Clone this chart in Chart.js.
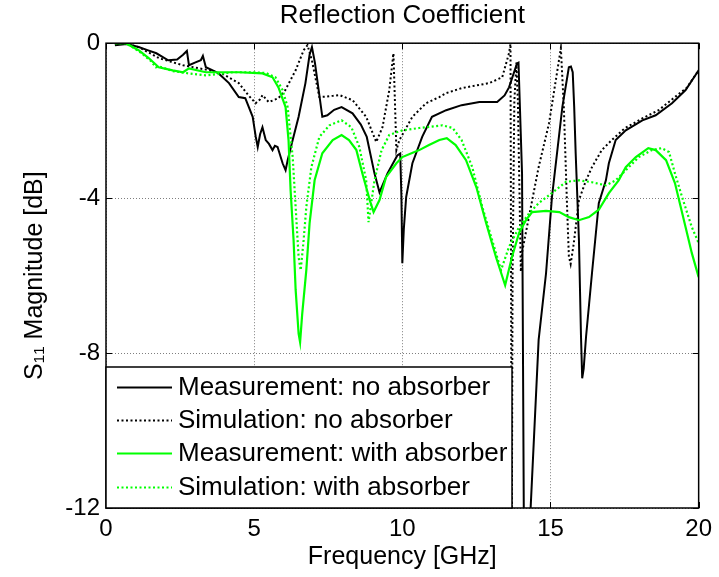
<!DOCTYPE html>
<html>
<head>
<meta charset="utf-8">
<title>Reflection Coefficient</title>
<script src="https://cdn.jsdelivr.net/npm/chart.js@4.4.1/dist/chart.umd.min.js"></script>
<style>
  html, body { margin: 0; padding: 0; background: #fff; }
  #s11-container { width: 719px; height: 577px; }
</style>
</head>
<body>
<div id="s11-container"><canvas id="s11-chart" width="719" height="577"></canvas></div>
<script>
/********************************
 *  values (GHz / dB)
 * ******************************/
var measNoFreq = [0.3, 0.7, 1.1, 1.4, 1.7, 2.1, 2.4, 2.6, 2.73, 2.8, 3.0, 3.2, 3.27, 3.37, 3.6, 3.8, 4.15, 4.48, 4.7, 4.95,
    5.05, 5.12, 5.2, 5.28, 5.39, 5.5, 5.62, 5.7, 5.79, 5.96, 6.06, 6.13, 6.3, 6.5, 6.73, 6.87, 6.95, 7.05, 7.3, 7.47,
    7.7, 7.95, 8.32, 8.6, 8.8, 9.06, 9.23, 9.5, 9.83, 9.93, 9.97, 10.0, 10.05, 10.13, 10.34, 10.67, 11.0, 11.48, 12.0, 12.6,
    13.2, 13.45, 13.6, 13.87, 13.92, 14.04, 14.1, 14.2, 14.33, 14.6, 14.85, 15.05, 15.4, 15.62, 15.69, 15.75, 15.8, 15.85, 15.96, 16.03,
    16.07, 16.12, 16.2, 16.4, 16.63, 16.87, 16.97, 17.2, 17.54, 18.1, 18.55, 19.1, 19.56, 20.0];
var measNoDb = [-0.05, -0.02, -0.1, -0.18, -0.26, -0.44, -0.42, -0.3, -0.2, -0.57, -0.5, -0.44, -0.33, -0.62, -0.7, -0.78, -1.03, -1.39, -1.42, -1.9,
    -2.4, -2.68, -2.35, -2.17, -2.5, -2.6, -2.76, -2.65, -2.68, -3.1, -3.28, -3.02, -2.5, -1.9, -1.03, -0.3, -0.1, -0.5, -1.9, -1.86,
    -1.72, -1.65, -1.81, -2.1, -2.42, -3.36, -3.85, -3.36, -2.9, -2.85, -4.0, -5.68, -4.8, -3.97, -3.1, -2.42, -1.9, -1.73, -1.6, -1.52,
    -1.52, -1.35, -1.14, -0.52, -0.5, -3.36, -12.2, -14, -12.0, -7.66, -5.94, -3.97, -1.65, -0.62, -0.6, -0.75, -1.65, -2.84, -5.08, -7.58,
    -8.65, -8.4, -7.58, -5.94, -4.13, -3.54, -3.1, -2.5, -2.25, -1.99, -1.86, -1.55, -1.21, -0.7];

var simNoFreq = [0.3, 0.7, 1.1, 1.8, 2.6, 3.5, 3.95, 4.48, 4.8, 5.05, 5.2, 5.28, 5.49, 5.82, 6.05, 6.4, 6.67, 6.8, 6.95, 7.2,
    7.45, 7.65, 7.88, 8.32, 8.78, 9.12, 9.33, 9.56, 9.7, 9.75, 9.8, 9.9, 10.34, 10.8, 11.25, 11.48, 12.0, 12.93, 13.37, 13.6,
    13.65, 13.67, 13.69, 13.72, 13.78, 13.85, 13.9, 14.0, 14.04, 14.6, 14.95, 15.35, 15.45, 15.56, 15.62, 15.68, 15.78, 15.85, 15.96, 16.2,
    16.4, 16.73, 17.07, 17.5, 18.1, 18.65, 19.2, 19.6, 20.0];
var simNoDb = [-0.02, -0.02, -0.1, -0.39, -0.57, -0.7, -0.8, -1.03, -1.34, -1.55, -1.45, -1.34, -1.52, -1.42, -1.21, -0.7, -0.18, -0.05, -0.45, -1.39,
    -1.38, -1.36, -1.34, -1.47, -1.9, -2.55, -2.17, -1.21, -0.26, -1.5, -2.76, -2.5, -1.9, -1.55, -1.39, -1.29, -1.16, -1.03, -0.88, -0.26,
    -0.02, -6, -14, -6, -1.5, -0.5, -1.5, -5.9, -5.4, -3.2, -2.07, -0.13, -1.65, -4.23, -5.5, -5.7, -5.2, -4.75, -4.05, -3.54,
    -3.2, -2.76, -2.5, -2.2, -1.94, -1.73, -1.39, -1.15, -0.7];

var measAbFreq = [0.3, 0.67, 1.1, 1.45, 1.78, 2.25, 2.6, 2.8, 3.37, 4.48, 5.28, 5.62, 5.82, 6.06, 6.16, 6.23, 6.33, 6.4, 6.5, 6.55,
    6.62, 6.76, 6.87, 7.04, 7.3, 7.65, 7.95, 8.2, 8.45, 8.65, 8.9, 9.03, 9.23, 9.45, 9.8, 10.0, 10.57, 10.9, 11.25, 11.5,
    11.8, 12.15, 12.5, 12.83, 13.16, 13.47, 13.7, 13.94, 14.17, 14.38, 14.85, 15.3, 15.62, 15.96, 16.3, 16.63, 16.97, 17.3, 17.54, 17.88,
    18.3, 18.55, 18.9, 19.2, 19.56, 19.77, 20.0];
var measAbDb = [0, 0, -0.18, -0.39, -0.62, -0.7, -0.75, -0.65, -0.75, -0.75, -0.78, -0.88, -1.14, -1.65, -2.5, -3.8, -5.08, -6.37, -7.5, -7.72,
    -7.0, -5.86, -4.65, -3.54, -2.84, -2.5, -2.37, -2.5, -2.76, -3.36, -4.05, -4.36, -4.05, -3.46, -3.1, -2.94, -2.76, -2.63, -2.5, -2.45,
    -2.63, -3.02, -3.72, -4.65, -5.52, -6.25, -5.52, -4.9, -4.57, -4.36, -4.33, -4.36, -4.49, -4.57, -4.49, -4.3, -3.87, -3.54, -3.2, -2.94,
    -2.71, -2.76, -3.02, -3.61, -4.75, -5.42, -6.04];

var simAbFreq = [0.3, 0.67, 1.1, 1.5, 1.68, 1.8, 2.25, 2.8, 3.37, 3.95, 4.28, 5.0, 5.4, 5.72, 5.96, 6.13, 6.3, 6.4, 6.5, 6.57,
    6.67, 6.76, 6.93, 7.2, 7.54, 7.95, 8.28, 8.55, 8.78, 8.86, 9.06, 9.3, 9.56, 10.0, 10.57, 11.35, 11.7, 12.0, 12.36, 12.7,
    13.03, 13.33, 13.6, 13.94, 14.28, 14.6, 15.05, 15.52, 15.96, 16.4, 16.87, 17.2, 17.54, 17.98, 18.42, 18.75, 19.0, 19.2, 19.44, 19.77,
    20.0];
var simAbDb = [0, 0, -0.2, -0.45, -0.62, -0.6, -0.72, -0.78, -0.83, -0.78, -0.75, -0.75, -0.77, -0.88, -1.21, -1.65, -2.94, -4.23, -5.52, -5.86,
    -5.08, -4.23, -3.2, -2.42, -2.12, -1.99, -2.17, -2.68, -3.54, -4.62, -3.54, -2.76, -2.37, -2.25, -2.19, -2.12, -2.19, -2.5, -3.2, -4.23,
    -5.08, -5.86, -5.26, -4.75, -4.39, -4.13, -3.87, -3.58, -3.54, -3.59, -3.67, -3.54, -3.28, -2.94, -2.76, -2.71, -2.81, -3.36, -3.97, -4.75,
    -5.16];

var seriesLabels = ['Measurement: no absorber', 'Simulation: no absorber',
                    'Measurement: with absorber', 'Simulation: with absorber'];
var xTicks = [0, 5, 10, 15, 20];
var yTicks = [-12, -8, -4, 0];

var FONT = "'Liberation Sans', Arial, sans-serif";
var GREEN = '#00ff00';

function toPoints(xs, ys) {
    var pts = [];
    for (var i = 0; i < xs.length; i++) {
        pts.push({x: xs[i], y: ys[i]});
    }
    return pts;
}

// box round the axes + small inward ticks, like matlab's "box on"
var frameBox = {
    id: 'frameBox',
    afterDatasetsDraw: function (chart) {
        var ctx = chart.ctx, a = chart.chartArea;
        var sx = chart.scales.x, sy = chart.scales.y;
        ctx.save();
        ctx.strokeStyle = '#000';
        ctx.lineWidth = 1;
        ctx.beginPath();
        xTicks.forEach(function (v) {
            var px = Math.round(sx.getPixelForValue(v)) + 0.5;
            ctx.moveTo(px, a.bottom); ctx.lineTo(px, a.bottom - 6);
            ctx.moveTo(px, a.top); ctx.lineTo(px, a.top + 6);
        });
        yTicks.forEach(function (v) {
            var py = Math.round(sy.getPixelForValue(v)) + 0.5;
            ctx.moveTo(a.left, py); ctx.lineTo(a.left + 6, py);
            ctx.moveTo(a.right, py); ctx.lineTo(a.right - 6, py);
        });
        ctx.stroke();
        ctx.lineWidth = 1.5;
        ctx.strokeRect(a.left, a.top, a.right - a.left, a.bottom - a.top);
        ctx.restore();
    }
};

// legend in the lower left corner of the axes
var boxLegend = {
    id: 'boxLegend',
    afterDraw: function (chart) {
        var ctx = chart.ctx, a = chart.chartArea;
        var x0 = a.left, x1 = a.left + 406, y0 = a.bottom - 141, y1 = a.bottom;
        ctx.save();
        ctx.fillStyle = '#fff';
        ctx.fillRect(x0, y0, x1 - x0, y1 - y0);
        ctx.strokeStyle = '#000';
        ctx.lineWidth = 1.5;
        ctx.strokeRect(x0, y0, x1 - x0, y1 - y0);
        ctx.font = '26px ' + FONT;
        ctx.textBaseline = 'middle';
        ctx.textAlign = 'left';
        chart.data.datasets.forEach(function (ds, i) {
            var ry = Math.round(y0 + 19.7 + i * 33.3) + 0.5;
            ctx.beginPath();
            ctx.strokeStyle = ds.borderColor;
            ctx.lineWidth = 2;
            ctx.setLineDash(ds.borderDash || []);
            ctx.moveTo(x0 + 11, ry);
            ctx.lineTo(x0 + 66, ry);
            ctx.stroke();
            ctx.setLineDash([]);
            ctx.fillStyle = '#000';
            ctx.fillText(ds.label, x0 + 72, ry);
        });
        ctx.restore();
    }
};

function setS11Chart() {
    var datasets = [
        {label: seriesLabels[0], data: toPoints(measNoFreq, measNoDb), borderColor: '#000', borderWidth: 2, order: 3},
        {label: seriesLabels[1], data: toPoints(simNoFreq, simNoDb), borderColor: '#000', borderWidth: 2, borderDash: [2, 2.5], order: 2},
        {label: seriesLabels[2], data: toPoints(measAbFreq, measAbDb), borderColor: GREEN, borderWidth: 2.2, order: 1},
        {label: seriesLabels[3], data: toPoints(simAbFreq, simAbDb), borderColor: GREEN, borderWidth: 2.2, borderDash: [2, 2.5], order: 0}
    ];
    datasets.forEach(function (ds) {
        ds.fill = false;
        ds.pointRadius = 0;
        ds.tension = 0;
        ds.backgroundColor = ds.borderColor;
    });

    var ctx = document.getElementById('s11-chart').getContext('2d');
    return new Chart(ctx, {
        type: 'line',
        data: {datasets: datasets},
        plugins: [frameBox, boxLegend],
        options: {
            responsive: false,
            animation: false,
            layout: {padding: {left: 0, right: 19, top: 0, bottom: 0}},
            plugins: {
                legend: {display: false},
                tooltip: {enabled: false},
                title: {
                    display: true,
                    fullSize: false,
                    text: 'Reflection Coefficient',
                    color: '#000',
                    font: {family: FONT, size: 26, weight: 'normal'},
                    padding: {top: 0, bottom: 12}
                }
            },
            scales: {
                x: {
                    type: 'linear',
                    min: 0, max: 20,
                    afterBuildTicks: function (scale) {
                        scale.ticks = xTicks.map(function (v) { return {value: v}; });
                    },
                    afterFit: function (scale) { scale.height = 69; },
                    grid: {color: 'rgba(0,0,0,0.5)', lineWidth: 1, drawTicks: false},
                    border: {display: false, dash: [1, 2]},
                    ticks: {color: '#000', padding: 7, maxRotation: 0, font: {family: FONT, size: 24}},
                    title: {
                        display: true, text: 'Frequency [GHz]', color: '#000',
                        font: {family: FONT, size: 25}, padding: {top: 0, bottom: 5}
                    }
                },
                y: {
                    type: 'linear',
                    min: -12, max: 0,
                    afterBuildTicks: function (scale) {
                        scale.ticks = yTicks.map(function (v) { return {value: v}; });
                    },
                    afterFit: function (scale) { scale.width = 106; },
                    grid: {color: 'rgba(0,0,0,0.5)', lineWidth: 1, drawTicks: false},
                    border: {display: false, dash: [1, 2]},
                    ticks: {color: '#000', padding: 6, font: {family: FONT, size: 24}},
                    title: {
                        display: true, text: 'S\u2081\u2081 Magnitude [dB]', color: '#000',
                        font: {family: FONT, size: 25}, padding: {top: 20, bottom: 0}
                    }
                }
            }
        }
    });
}

var s11Chart = setS11Chart();
</script>
</body>
</html>
